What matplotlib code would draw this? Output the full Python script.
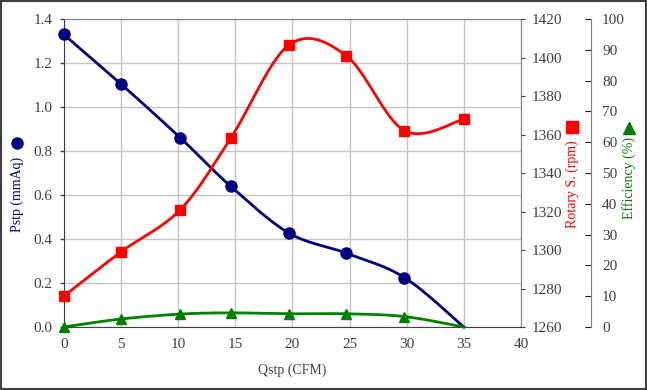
import matplotlib
matplotlib.use('Agg')
import matplotlib.pyplot as plt
from matplotlib.lines import Line2D
from matplotlib.patches import Rectangle
import numpy as np

plt.rcParams['font.family'] = ['Liberation Serif', 'DejaVu Serif']

# data
qstp = [0.0, 5.0, 10.2, 14.6, 19.7, 24.7, 29.8, 35.0]
pstp = [1.33, 1.105, 0.86, 0.64, 0.427, 0.336, 0.225, 0.0]
rpm_q = [0.0, 5.0, 10.2, 14.6, 19.7, 24.7, 29.8, 35.0]
rpm = [1276, 1299, 1321, 1358, 1406.5, 1401, 1362, 1368]
eff = [0.0, 2.6, 4.2, 4.6, 4.3, 4.3, 3.4, 0.0]

NAVY = '#000080'
RED = '#ff0000'
GREEN = '#008000'
TXT = '#404040'


def smooth(x, y, n=24):
    # Excel-like smoothed line (cardinal bezier through the points)
    p = np.column_stack([x, y]).astype(float)
    out = [p[0]]
    t = np.linspace(0, 1, n)[1:, None]
    for i in range(len(p) - 1):
        p0 = p[i - 1] if i > 0 else p[i]
        p1, p2 = p[i], p[i + 1]
        p3 = p[i + 2] if i + 2 < len(p) else p[i + 1]
        c1 = p1 + (p2 - p0) / 6
        c2 = p2 - (p3 - p1) / 6
        seg = ((1 - t) ** 3) * p1 + 3 * ((1 - t) ** 2) * t * c1 + 3 * (1 - t) * t ** 2 * c2 + t ** 3 * p2
        out.extend(seg)
    out = np.array(out)
    return out[:, 0], out[:, 1]


fig = plt.figure(figsize=(6.47, 3.9), dpi=100)
ax = fig.add_axes([0.0985, 0.1615, 0.7068, 0.7897])
ax2 = ax.twinx()
ax3 = ax.twinx()

# primary axis (the zero-pressure end point has no marker in the source)
sx, sy = smooth(qstp, pstp)
ax.plot(sx, sy, color=NAVY, lw=2, zorder=3, clip_on=False)
ax.plot(qstp[:-1], pstp[:-1], 'o', color=NAVY, ms=8, zorder=4, clip_on=False)
ax.set_xlim(0, 40)
ax.set_ylim(0, 1.4)
ax.set_xticks(range(0, 41, 5))
ax.set_yticks(np.arange(0, 1.41, 0.2))
ax.set_yticklabels(['%.1f' % v for v in np.arange(0, 1.41, 0.2)])
ax.grid(True, color='#c4c4c4', lw=1)
ax.set_axisbelow(True)
ax.tick_params(axis='both', colors=TXT, labelsize=11, length=3, width=1)
ax.tick_params(axis='x', length=0, pad=8)
ax.tick_params(axis='y', pad=5)
for s in ax.spines.values():
    s.set_color('#808080')
ax.spines['left'].set_color('#404040')
ax.spines['bottom'].set_color('#404040')
ax.set_xlabel('Qstp (CFM)', fontsize=10, color=TXT, labelpad=9)

# rotary speed axis
rx, ry = smooth(rpm_q, rpm)
ax2.plot(rx, ry, color=RED, lw=2, zorder=3, clip_on=False)
ax2.plot(rpm_q, rpm, 's', color=RED, ms=7, zorder=4, clip_on=False)
ax2.set_ylim(1260, 1420)
ax2.set_yticks(range(1260, 1421, 20))
ax2.tick_params(axis='y', colors=TXT, labelsize=11, length=3, pad=5)
for s in ax2.spines.values():
    s.set_visible(False)

# efficiency axis
ex, ey = smooth(qstp, eff)
ax3.plot(ex, ey, color=GREEN, lw=2, zorder=3, clip_on=False)
ax3.plot(qstp[:-1], eff[:-1], '^', color=GREEN, ms=7, zorder=4, clip_on=False)
ax3.set_ylim(0, 100)
ax3.set_yticks(range(0, 101, 10))
ax3.spines['right'].set_position(('axes', 1.153))
for k in ('left', 'top', 'bottom'):
    ax3.spines[k].set_visible(False)
ax3.spines['right'].set_color('#808080')
ax3.tick_params(axis='y', colors=TXT, labelsize=11, length=4, direction='in', pad=8)
ax3.tick_params(axis='y', which='major', color='#202020')

# axis titles with symbol markers, as in the source chart
fig.text(17 / 647, 1 - 194 / 390, 'Pstp (mmAq)', rotation=90, ha='center', va='center',
         fontsize=10, color=NAVY)
fig.add_artist(Line2D([17 / 647], [1 - 143 / 390], marker='o', color=NAVY, ms=8,
                      transform=fig.transFigure))
fig.text(572 / 647, 1 - 184 / 390, 'Rotary S. (rpm)', rotation=90, ha='center', va='center',
         fontsize=10, color=RED)
fig.add_artist(Line2D([572 / 647], [1 - 127 / 390], marker='s', color=RED, ms=8,
                      transform=fig.transFigure))
fig.text(629 / 647, 1 - 178 / 390, 'Efficiency (%)', rotation=90, ha='center', va='center',
         fontsize=10, color=GREEN)
fig.add_artist(Line2D([629 / 647], [1 - 128 / 390], marker='^', color=GREEN, ms=8,
                      transform=fig.transFigure))

# outer chart border
fig.add_artist(Rectangle((0.001, 0.002), 0.997, 0.995, transform=fig.transFigure,
                         fill=False, edgecolor='#404040', lw=1.5))

fig.savefig('out.png', dpi=100)
